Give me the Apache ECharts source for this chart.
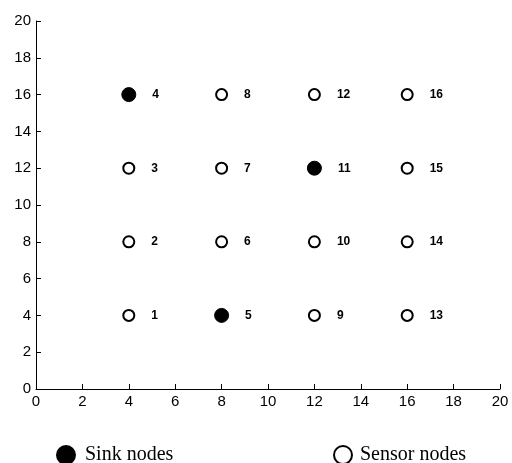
<!DOCTYPE html>
<html><head><meta charset="utf-8">
<script src="https://cdn.jsdelivr.net/npm/echarts@6/dist/echarts.min.js"></script>
<style>html,body{margin:0;padding:0;background:#fff}#c{width:512px;height:463px}</style>
</head><body><div id="c"></div>
<script>
const sinkIds = [4, 5, 11];
const sinkX = [4, 8, 12];
const sinkY = [16, 4, 12];
const sensorIds = [1, 2, 3, 6, 7, 8, 9, 10, 12, 13, 14, 15, 16];
const sensorX = [4, 4, 4, 8, 8, 8, 12, 12, 12, 16, 16, 16, 16];
const sensorY = [4, 8, 12, 8, 12, 16, 4, 8, 16, 4, 8, 12, 16];
const seriesNames = ['Sink nodes', 'Sensor nodes'];

const chart = echarts.init(document.getElementById('c'), null, {renderer: 'canvas'});
const labelCfg = {
  show: true, position: 'right', distance: 16,
  formatter: p => String(p.value[2]),
  color: '#000', fontWeight: 'bold', fontSize: 12, fontFamily: 'Liberation Sans'
};
const axisCommon = {
  min: 0, max: 20, interval: 2,
  axisLine: {show: true, onZero: false, lineStyle: {color: '#000', width: 1}},
  axisTick: {show: true, inside: true, length: 5, lineStyle: {color: '#000'}},
  splitLine: {show: false},
  axisLabel: {color: '#000', fontSize: 15, fontFamily: 'Liberation Sans Narrow, Liberation Sans'}
};
chart.setOption({
  animation: false,
  backgroundColor: '#fff',
  grid: {left: 36, right: 12, top: 21, bottom: 74, containLabel: false},
  xAxis: Object.assign({type: 'value'}, axisCommon, {axisLabel: Object.assign({}, axisCommon.axisLabel, {margin: 5})}),
  yAxis: Object.assign({type: 'value'}, axisCommon, {axisLabel: Object.assign({}, axisCommon.axisLabel, {margin: 5})}),
  legend: [
    {data: [seriesNames[0]], left: 56, top: 445, itemWidth: 18, itemHeight: 18, itemGap: 0, padding: 0,
     textStyle: {fontFamily: 'Liberation Serif', fontSize: 20, color: '#000', padding: [0, 0, 0, 5]}},
    {data: [seriesNames[1]], left: 333, top: 445, itemWidth: 18, itemHeight: 18, itemGap: 0, padding: 0,
     textStyle: {fontFamily: 'Liberation Serif', fontSize: 20, color: '#000', padding: [0, 0, 0, 3]}}
  ],
  series: [
    {name: seriesNames[0], type: 'scatter', symbol: 'circle', symbolSize: 14,
     itemStyle: {color: '#000', borderColor: '#000', borderWidth: 1, opacity: 1},
     label: labelCfg,
     data: sinkIds.map((id, i) => [sinkX[i], sinkY[i], id])},
    {name: seriesNames[1], type: 'scatter', symbol: 'circle', symbolSize: 11,
     itemStyle: {color: '#fff', borderColor: '#000', borderWidth: 2, opacity: 1},
     label: labelCfg,
     data: sensorIds.map((id, i) => [sensorX[i], sensorY[i], id])}
  ]
});
</script></body></html>
